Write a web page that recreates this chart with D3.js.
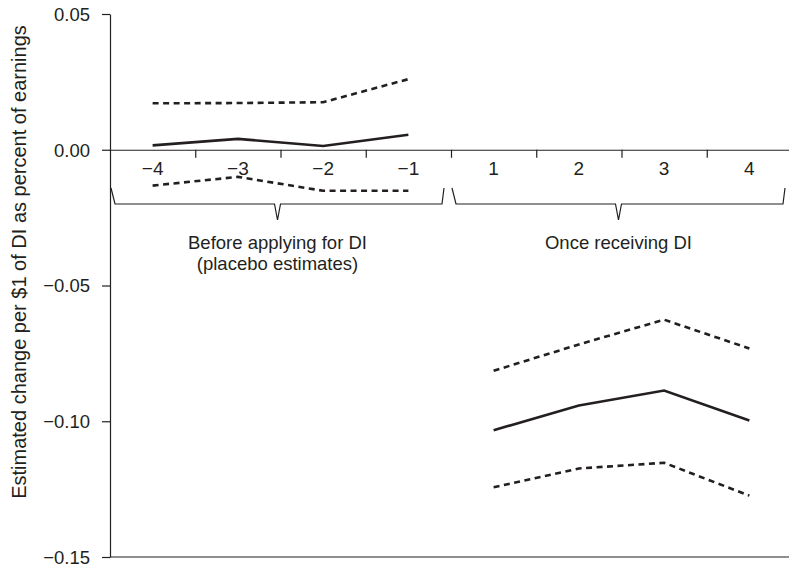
<!DOCTYPE html>
<html>
<head>
<meta charset="utf-8">
<script src="https://cdn.jsdelivr.net/npm/d3@7"></script>
<style>
  body { margin: 0; background: #fff; }
  svg text { font-family: "Liberation Sans", Arial, sans-serif; fill: #231f20; }
</style>
</head>
<body>
<svg width="789" height="568"></svg>
<script>
// periods relative to DI application / receipt
var periods = ["-4", "-3", "-2", "-1", "1", "2", "3", "4"];
var periodLabels = ["\u22124", "\u22123", "\u22122", "\u22121", "1", "2", "3", "4"];
var yTicks = [0.05, 0, -0.05, -0.10, -0.15];

// placebo (before applying)
var beforePeriods = ["-4", "-3", "-2", "-1"];
var beforeEst = [0.0016, 0.0040, 0.0014, 0.0055];
var beforeUpper = [0.0171, 0.0172, 0.0175, 0.0260];
var beforeLower = [-0.0132, -0.0100, -0.0151, -0.0151];

// once receiving DI
var afterPeriods = ["1", "2", "3", "4"];
var afterEst = [-0.1033, -0.0942, -0.0887, -0.0997];
var afterUpper = [-0.0814, -0.0717, -0.0626, -0.0732];
var afterLower = [-0.1243, -0.1174, -0.1153, -0.1274];

var groups = [
  {name: ["Before applying for DI", "(placebo estimates)"], from: "-4", to: "-1"},
  {name: ["Once receiving DI"], from: "1", to: "4"}
];

var svg = d3.select("svg"),
    ink = "#231f20";

var left = 110, right = 792;

var x = d3.scaleBand()
    .domain(periods)
    .range([left, right]);

var y = d3.scaleLinear()
    .domain([-0.15, 0.05])
    .range([557, 14]);

// y axis
var yAxis = d3.axisLeft(y)
    .tickValues(yTicks)
    .tickFormat(d3.format(".2f"))
    .tickSize(8)
    .tickSizeOuter(0)
    .tickPadding(12);

var gy = svg.append("g")
    .attr("transform", "translate(" + left + ",0)")
    .call(yAxis);
gy.selectAll("path, line").attr("stroke", ink).attr("stroke-width", 1.2);
gy.selectAll("text").style("font-size", "18.5px").attr("dy", "0.34em");

// bottom frame line
svg.append("line")
    .attr("x1", left).attr("x2", 789)
    .attr("y1", y(-0.15)).attr("y2", y(-0.15))
    .attr("stroke", ink).attr("stroke-width", 1.2);

// zero axis with ticks at band edges
var edges = d3.scaleLinear().domain([0, periods.length]).range([left, right]);
var gx = svg.append("g")
    .attr("transform", "translate(0," + y(0) + ")")
    .call(d3.axisBottom(edges).tickValues(d3.range(1, periods.length)).tickFormat("").tickSize(8).tickSizeOuter(0));
gx.selectAll("path, line").attr("stroke", ink).attr("stroke-width", 1.2);

var gl = svg.append("g")
    .attr("transform", "translate(0," + y(0) + ")")
    .call(d3.axisBottom(x).tickSize(0).tickPadding(12).tickFormat(function(d, i) { return periodLabels[i]; }));
gl.select(".domain").remove();
gl.selectAll("text").style("font-size", "19px");

// braces under the period labels
var braceTop = 188, braceLine = 204, braceTip = 220;
groups.forEach(function(g) {
  var x0 = x(g.from) + 1,
      x1 = x(g.to) + x.bandwidth() - 7,
      m = (x0 + x1) / 2;
  var pts = [[x0, braceTop], [x0 + 4, braceLine], [m - 3, braceLine], [m, braceTip],
             [m + 3, braceLine], [x1 - 2, braceLine], [x1, braceTop]];
  svg.append("path")
      .attr("d", d3.line()(pts))
      .attr("fill", "none")
      .attr("stroke", ink)
      .attr("stroke-width", 1.2);
  var t = svg.append("text")
      .attr("x", m)
      .attr("y", 249)
      .attr("text-anchor", "middle")
      .style("font-size", "18.5px");
  g.name.forEach(function(s, i) {
    t.append("tspan").attr("x", m).attr("dy", i === 0 ? 0 : 21).text(s);
  });
});

// estimate lines
var line = d3.line()
    .x(function(d) { return x(d[0]) + x.bandwidth() / 2; })
    .y(function(d) { return y(d[1]); });

var series = [
  {p: beforePeriods, v: beforeEst, dash: null},
  {p: beforePeriods, v: beforeUpper, dash: "6,4.5"},
  {p: beforePeriods, v: beforeLower, dash: "6,4.5"},
  {p: afterPeriods, v: afterEst, dash: null},
  {p: afterPeriods, v: afterUpper, dash: "6,4.5"},
  {p: afterPeriods, v: afterLower, dash: "6,4.5"}
];

series.forEach(function(s) {
  svg.append("path")
      .datum(d3.zip(s.p, s.v))
      .attr("d", line)
      .attr("fill", "none")
      .attr("stroke", ink)
      .attr("stroke-width", 2.6)
      .attr("stroke-dasharray", s.dash);
});

// y axis title
svg.append("text")
    .attr("transform", "translate(19,262) rotate(-90)")
    .attr("text-anchor", "middle")
    .attr("dy", "0.35em")
    .style("font-size", "20px")
    .text("Estimated change per $1 of DI as percent of earnings");
</script>
</body>
</html>
